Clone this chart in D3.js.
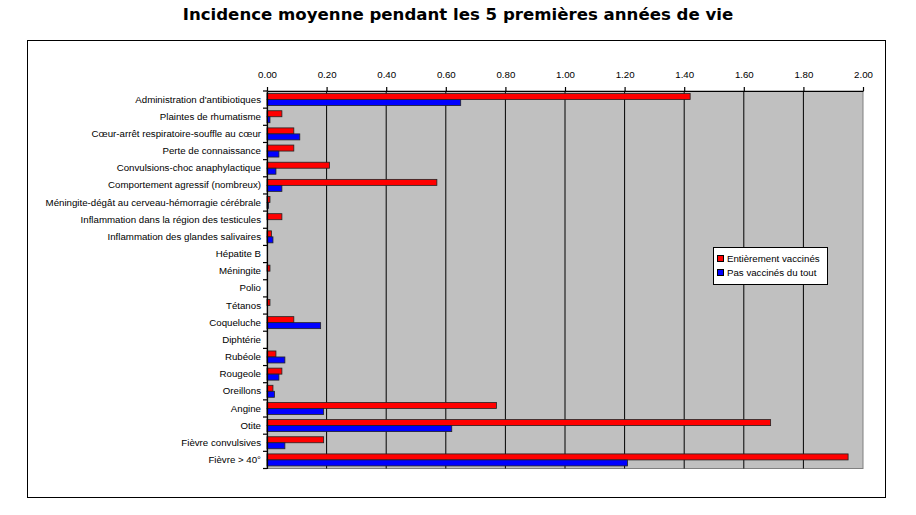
<!DOCTYPE html>
<html><head><meta charset="utf-8">
<script src="https://cdn.jsdelivr.net/npm/d3@7"></script>
<style>body{margin:0;background:#fff;} svg{display:block;}</style>
</head><body>
<svg id="c" width="916" height="515"></svg>
<script>
const categories = [
 "Administration d'antibiotiques","Plaintes de rhumatisme","Cœur-arrêt respiratoire-souffle au cœur",
 "Perte de connaissance","Convulsions-choc anaphylactique","Comportement agressif (nombreux)",
 "Méningite-dégât au cerveau-hémorragie cérébrale","Inflammation dans la région des testicules",
 "Inflammation des glandes salivaires","Hépatite B","Méningite","Polio","Tétanos","Coqueluche",
 "Diphtérie","Rubéole","Rougeole","Oreillons","Angine","Otite","Fièvre convulsives","Fièvre > 40°"];
const vaccinated = [1.42,0.05,0.09,0.09,0.21,0.57,0.01,0.05,0.015,0,0.01,0,0.01,0.09,0,0.03,0.05,0.02,0.77,1.69,0.19,1.95];
const unvaccinated = [0.65,0.01,0.11,0.04,0.03,0.05,0.004,0,0.02,0,0,0,0,0.18,0,0.06,0.04,0.025,0.19,0.62,0.06,1.21];
const seriesNames = ["Entièrement vaccinés","Pas vaccinés du tout"];
const colors = ["#ff0000","#0000ff"];
const xTicks = [0,0.2,0.4,0.6,0.8,1.0,1.2,1.4,1.6,1.8,2.0];

const svg = d3.select("#c");
const font = "'Liberation Sans', Arial, sans-serif";
const fs = 9.7;
const L=267, R=863, T=91, B=468.5;

svg.append("text").attr("x",458).attr("y",20).attr("text-anchor","middle")
  .attr("font-family","'DejaVu Sans', Verdana, sans-serif").attr("font-weight","bold").attr("font-size",16.6)
  .text("Incidence moyenne pendant les 5 premières années de vie");
svg.append("rect").attr("x",27.5).attr("y",40.5).attr("width",858).attr("height",457)
  .attr("fill","#fff").attr("stroke","#000").attr("stroke-width",1);

const x = d3.scaleLinear().domain([0,2]).range([L,R]);
const y = d3.scaleBand().domain(categories).range([T,B]);

svg.append("rect").attr("x",L).attr("y",T).attr("width",R-L).attr("height",B-T).attr("fill","#c0c0c0")
  .attr("stroke","#808080").attr("stroke-width",1);

// gridlines
svg.append("g").selectAll("line").data(xTicks.slice(1,-1)).join("line")
  .attr("x1",d=>x(d)).attr("x2",d=>x(d)).attr("y1",T).attr("y2",B)
  .attr("stroke","#000").attr("stroke-width",1);

// top axis
const xa = svg.append("g").attr("transform",`translate(0,${T})`)
  .call(d3.axisTop(x).tickValues(xTicks).tickFormat(d3.format(".2f")).tickSize(4).tickSizeOuter(0));
xa.select(".domain").attr("stroke","#000").attr("stroke-width",1.2);
xa.selectAll("text").attr("font-family",font).attr("font-size",fs).attr("dy","-0.6em").attr("fill","#000");
xa.selectAll(".tick line").attr("stroke","#000").attr("stroke-width",1.2);

// bars
const bh = 6;
const g = svg.append("g");
categories.forEach((c,i)=>{
  const yc = y(c) + y.bandwidth()/2;
  [vaccinated[i], unvaccinated[i]].forEach((v,s)=>{
    if(v<=0) return;
    g.append("rect").attr("x",x(0)).attr("y", s===0 ? yc-bh : yc)
      .attr("width",Math.max(x(v)-x(0),1.5)).attr("height",bh)
      .attr("fill",colors[s]).attr("stroke","#222").attr("stroke-width",0.8);
  });
});

// left axis
const ya = svg.append("g").attr("transform",`translate(${L},0)`)
  .call(d3.axisLeft(y).tickSize(0).tickPadding(6));
ya.select(".domain").attr("stroke","#000").attr("stroke-width",1.2);
ya.selectAll("text").attr("font-family",font).attr("font-size",fs).attr("fill","#000");
// category boundary ticks
svg.append("g").selectAll("line").data(d3.range(categories.length+1)).join("line")
  .attr("x1",L-4).attr("x2",L).attr("y1",d=>T+d*y.step()).attr("y2",d=>T+d*y.step())
  .attr("stroke","#000").attr("stroke-width",1.2);

// legend
const lg = svg.append("g").attr("transform","translate(713,247)");
lg.append("rect").attr("x",0.5).attr("y",0.5).attr("width",114).attr("height",37).attr("fill","#fff").attr("stroke","#000");
seriesNames.forEach((n,i)=>{
  lg.append("rect").attr("x",4.5).attr("y",8.5+i*14).attr("width",6).attr("height",6).attr("fill",colors[i]).attr("stroke","#000");
  lg.append("text").attr("x",14).attr("y",15+i*14).attr("font-family",font).attr("font-size",fs).text(n);
});
</script>
</body></html>
